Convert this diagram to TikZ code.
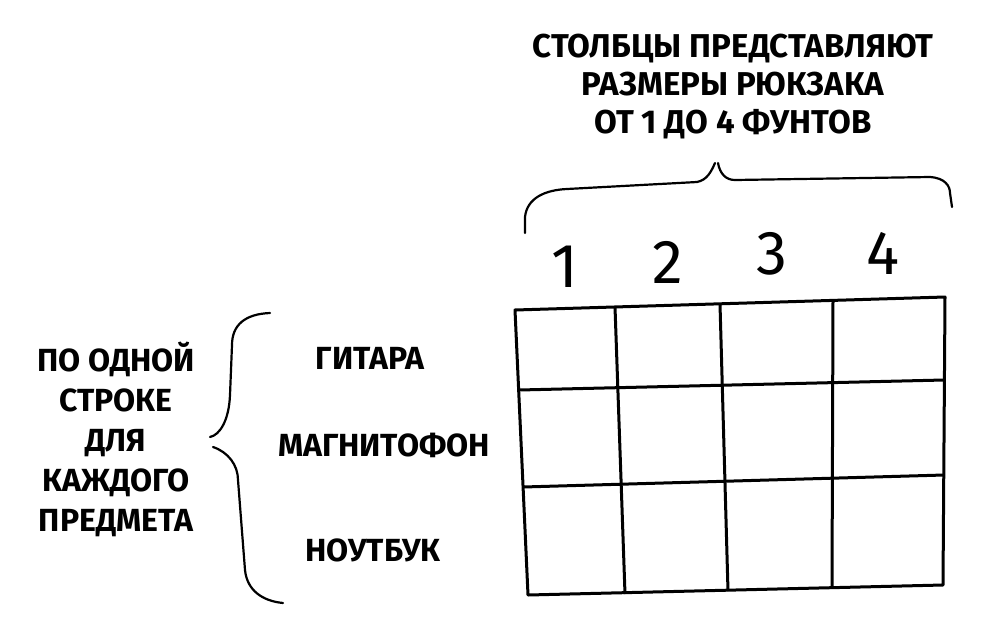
\documentclass[tikz,border=0pt]{standalone}
\usepackage{fontspec}
\setmainfont{Fira Sans}
\usetikzlibrary{positioning}
\tikzset{
    caption/.style={font=\fontsize{16.5}{19}\selectfont\bfseries,align=center,inner sep=0pt},
    rowlabel/.style={font=\fontsize{16}{19}\selectfont\bfseries,inner sep=0pt},
    weight/.style={font=\fontsize{31}{34}\selectfont,inner sep=0pt},
    gridline/.style={line width=1.5pt,line join=round},
    brace/.style={line width=1.1pt,line cap=round}
}

\begin{document}
\begin{tikzpicture}[x=0.5pt,y=-0.5pt]
    \useasboundingbox (0,0) rectangle (996,638);
    % grid corners
    \coordinate (t0) at (515,310);
    \coordinate (t1) at (615,307);
    \coordinate (t2) at (720,304);
    \coordinate (t3) at (833,300);
    \coordinate (t4) at (945,297);
    \coordinate (b0) at (528,595);
    \coordinate (b1) at (625,594);
    \coordinate (b2) at (728,591);
    \coordinate (b3) at (832,588);
    \coordinate (b4) at (943,585);
    \coordinate (l1) at (519,390);
    \coordinate (l2) at (523,487);
    \coordinate (r1) at (944,380);
    \coordinate (r2) at (944,475);
    \draw[gridline] (t0) -- (t4) -- (b4) -- (b0) -- cycle;
    \foreach \i in {1,2,3}
        \draw[gridline] (t\i) -- (b\i);
    \draw[gridline] (l1) -- (r1);
    \draw[gridline] (l2) -- (r2);
    % column weights
    \node[weight] (w1) at (565,267) {1};
    \node[weight] (w2) at (668,262) {2};
    \node[weight] (w3) at (772,254) {3};
    \node[weight] (w4) at (883,253) {4};
    % top brace
    \coordinate (ctip) at (715,163);
    \draw[brace] (525,233) -- (525,217) .. controls (527,198) and (545,190) .. (567,189)
        -- (697,182) .. controls (707,180) and (711,172) .. (ctip);
    \draw[brace] (718,163) .. controls (720,174) and (726,180) .. (735,180)
        -- (930,177) .. controls (945,178) and (950,186) .. (950,193) -- (952,207);
    \node[caption] (cols) at (733,87) {СТОЛБЦЫ ПРЕДСТАВЛЯЮТ\\РАЗМЕРЫ РЮКЗАКА\\ОТ 1 ДО 4 ФУНТОВ};
    % left brace
    \coordinate (rtip) at (210,437);
    \draw[brace] (270,313) .. controls (245,314) and (232,325) .. (232,345)
        -- (230,395) .. controls (229,420) and (220,435) .. (rtip);
    \draw[brace] (213,447) .. controls (228,452) and (238,465) .. (238,480)
        -- (245,570) .. controls (247,590) and (262,601) .. (283,603);
    \node[caption,font=\fontsize{16}{20}\selectfont\bfseries] (rows) at (116,439)
        {ПО ОДНОЙ\\СТРОКЕ\\ДЛЯ\\КАЖДОГО\\ПРЕДМЕТА};
    % items
    \node[rowlabel] (guitar) at (370,358) {ГИТАРА};
    \node[rowlabel] (stereo) at (384,445) {МАГНИТОФОН};
    \node[rowlabel] (laptop) at (373,550) {НОУТБУК};
\end{tikzpicture}
\end{document}
